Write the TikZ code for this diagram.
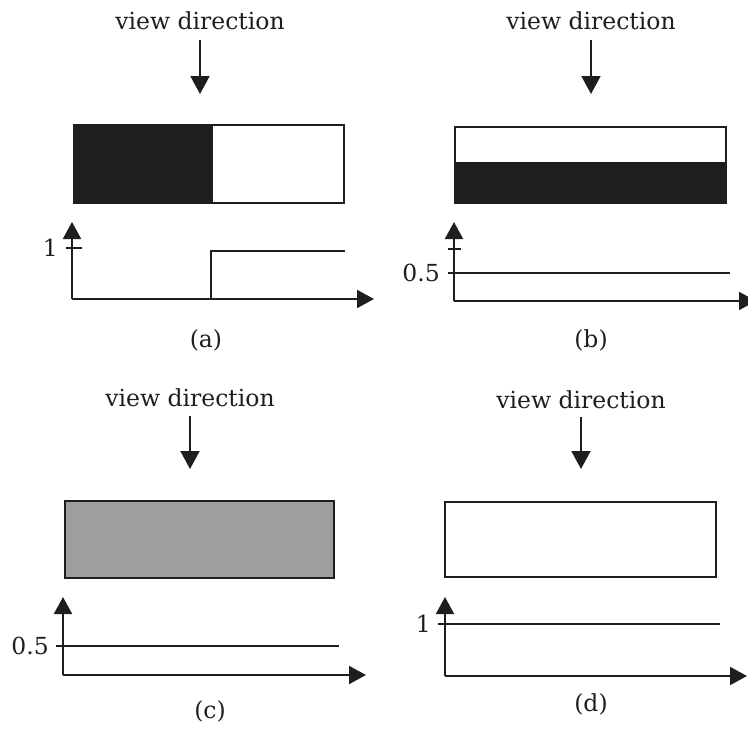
\documentclass[tikz,border=0pt]{standalone}
\usepackage{fontspec}
\setmainfont{DejaVu Serif}
\usetikzlibrary{arrows.meta}
\definecolor{ink}{HTML}{1E1E1E}
\definecolor{midgray}{HTML}{9E9E9E}
\begin{document}
\begin{tikzpicture}[x=1pt,y=-1pt,
  line/.style={draw=ink, line width=2pt},
  axis/.style={line, -{Triangle[length=17pt,width=18pt]}},
  viewarrow/.style={line, -{Triangle[length=18pt,width=19pt]}},
  label/.style={font=\fontsize{23.5}{28}\selectfont, text=ink, inner sep=0pt},
  value/.style={label, anchor=east},
]
\useasboundingbox (0,0) rectangle (748,729);

% ---------- (a): left half dark, right half white ----------
\node[label, anchor=base] (ta) at (200,29) {view direction};
\coordinate (ta0) at (200,40);
\coordinate (ta1) at (200,94);
\draw[viewarrow] (ta0) -- (ta1);
\fill[ink] (74,125) rectangle (212,203);
\draw[line] (74,125) rectangle (344,203);
\draw[line] (212,125) -- (212,203);
\coordinate (oa) at (72,299);
\coordinate (ya) at (72,222);
\coordinate (xa) at (374,299);
\draw[axis] (oa) -- (ya);
\draw[axis] (oa) -- (xa);
\draw[line] (66,248) -- (82,248);
\node[value] (va) at (58,248) {1};
\draw[line] (210.5,299) -- (210.5,251) -- (345,251);
\node[label] (ca) at (206,340) {(a)};

% ---------- (b): top half white, bottom half dark ----------
\node[label, anchor=base] (tb) at (591,29) {view direction};
\coordinate (tb0) at (591,40);
\coordinate (tb1) at (591,94);
\draw[viewarrow] (tb0) -- (tb1);
\fill[ink] (455,163) rectangle (726,203);
\draw[line] (455,127) rectangle (726,203);
\draw[line] (455,163) -- (726,163);
\coordinate (ob) at (454,301);
\coordinate (yb) at (454,222);
\coordinate (xb) at (756,301);
\draw[axis] (ob) -- (yb);
\draw[axis] (ob) -- (xb);
\draw[line] (448,249) -- (461,249);
\draw[line] (448,273) -- (730,273);
\node[value] (vb) at (440,273) {0.5};
\node[label] (cb) at (591,340) {(b)};

% ---------- (c): uniform grey ----------
\node[label, anchor=base] (tc) at (190,406) {view direction};
\coordinate (tc0) at (190,416);
\coordinate (tc1) at (190,469);
\draw[viewarrow] (tc0) -- (tc1);
\draw[line, fill=midgray] (65,501) rectangle (334,578);
\coordinate (oc) at (63,675);
\coordinate (yc) at (63,597);
\coordinate (xc) at (366,675);
\draw[axis] (oc) -- (yc);
\draw[axis] (oc) -- (xc);
\draw[line] (56,646) -- (339,646);
\node[value] (vc) at (49,646) {0.5};
\node[label] (cc) at (210,711) {(c)};

% ---------- (d): uniform white ----------
\node[label, anchor=base] (td) at (581,408) {view direction};
\coordinate (td0) at (581,417);
\coordinate (td1) at (581,469);
\draw[viewarrow] (td0) -- (td1);
\draw[line] (445,502) rectangle (716,577);
\coordinate (od) at (445,676);
\coordinate (yd) at (445,597);
\coordinate (xd) at (747,676);
\draw[axis] (od) -- (yd);
\draw[axis] (od) -- (xd);
\draw[line] (438,624) -- (453,624);
\draw[line] (445,624) -- (720,624);
\node[value] (vd) at (431,624) {1};
\node[label] (cd) at (591,704) {(d)};
\end{tikzpicture}
\end{document}
